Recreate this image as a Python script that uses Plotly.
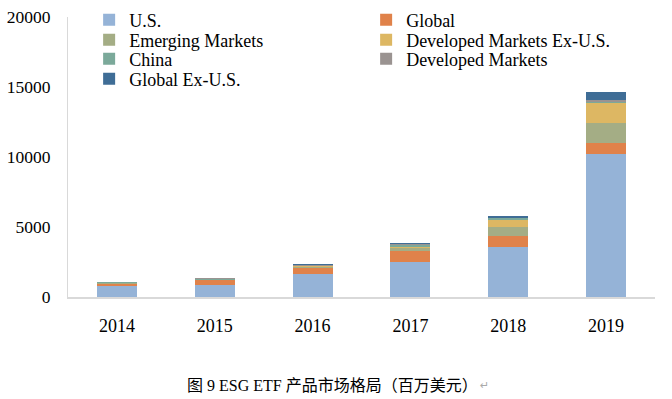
import plotly.graph_objects as go

years = ["2014", "2015", "2016", "2017", "2018", "2019"]
us = [790, 860, 1670, 2520, 3570, 10210]
global_ = [190, 360, 450, 770, 790, 770]
emerging = [45, 40, 60, 210, 640, 1420]
dev_ex_us = [10, 15, 80, 140, 520, 1460]
china = [35, 20, 20, 120, 140, 70]
dev_markets = [0, 10, 60, 60, 50, 140]
global_ex_us = [0, 0, 10, 30, 100, 570]

series = [
    ("U.S.", us, "#95B3D7", "legend"),
    ("Global", global_, "#E0824A", "legend"),
    ("Emerging Markets", emerging, "#A4AD85", "legend2"),
    ("Developed Markets Ex-U.S.", dev_ex_us, "#DDB763", "legend2"),
    ("China", china, "#7BA99A", "legend3"),
    ("Developed Markets", dev_markets, "#9A9391", "legend3"),
    ("Global Ex-U.S.", global_ex_us, "#3F6D96", "legend4"),
]

serif = "Liberation Serif"
FS = 18

fig = go.Figure()
for name, vals, color, lg in series:
    fig.add_trace(go.Bar(x=years, y=vals, name=name, marker_color=color,
                         marker_line_width=0, legend=lg))

def leg(ypix):
    return dict(orientation="h", x=0.036, y=(297 - ypix) / 280, xanchor="left",
                yanchor="middle", entrywidth=232, traceorder="normal",
                font=dict(family=serif, size=FS), itemwidth=30,
                bgcolor="rgba(0,0,0,0)")

fig.update_layout(
    width=672, height=399,
    barmode="stack", bargap=0.59,
    paper_bgcolor="white", plot_bgcolor="white",
    margin=dict(l=68, r=17, t=17, b=102, autoexpand=False),
    font=dict(family=serif, size=FS, color="black"),
    showlegend=True,
    legend=leg(20), legend2=leg(40), legend3=leg(59), legend4=leg(79),
    xaxis=dict(showline=True, linecolor="#D9D9D9", linewidth=1.5, ticks="",
               ticklabelstandoff=12, tickfont=dict(family=serif, size=FS)),
    yaxis=dict(range=[0, 20000], dtick=5000, tickformat="d", showgrid=False,
               showline=True, linecolor="#D9D9D9", linewidth=1, ticks="",
               ticklabelstandoff=13, ticklabeloverflow="allow",
               tickfont=dict(family=serif, size=17.5), zeroline=False),
)

fig.add_annotation(text="图 9 ESG ETF 产品市场格局（百万美元）", xref="paper", yref="paper",
                   x=(332 - 68) / 587, y=-(385 - 297) / 280, showarrow=False,
                   xanchor="center", yanchor="middle",
                   font=dict(family="Liberation Serif, Noto Sans CJK SC", size=16, color="black"))
fig.add_annotation(text="↵", xref="paper", yref="paper",
                   x=(484 - 68) / 587, y=-(385 - 297) / 280, showarrow=False,
                   xanchor="center", yanchor="middle",
                   font=dict(family="DejaVu Sans", size=11, color="#AAAAAA"))

fig.write_html("out.html", config={"displayModeBar": False},
               post_script="document.body.style.margin='0';")
